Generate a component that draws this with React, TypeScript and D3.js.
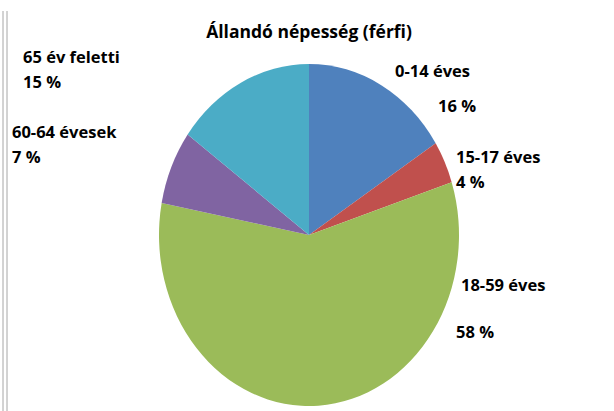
import React, {useRef, useEffect} from 'react';
import * as d3 from 'd3';

const width = 614;
const height = 411;

const title = 'Állandó népesség (férfi)';
const categories = ['0-14 éves', '15-17 éves', '18-59 éves', '60-64 évesek', '65 év feletti'];
const values = [16, 4, 58, 7, 15];
const colors = ['#4F81BD', '#C0504D', '#9BBB59', '#8064A2', '#4BACC6'];

// label placement (name line, percent line), hand-placed like in the source sheet
const labelLayout = [
  {x: 395, y: 77, px: 438, py: 112},
  {x: 456, y: 163, px: 456, py: 188},
  {x: 461, y: 291, px: 456, py: 338},
  {x: 12, y: 138, px: 12, py: 163},
  {x: 23, y: 63, px: 23, py: 88},
];

const font = '"Open Sans", "Noto Sans", sans-serif';
const fontSize = 16.5;
const titleSize = 17.5;

const setupChart = (container: SVGSVGElement) => {
  const svg = d3.select(container);
  svg.selectAll('*').remove();

  svg.append('rect').attr('width', width).attr('height', height).attr('fill', 'white');

  // double frame line on the left
  [3, 7].forEach(x => {
    svg
      .append('line')
      .attr('x1', x)
      .attr('x2', x)
      .attr('y1', 11)
      .attr('y2', height)
      .attr('stroke', '#a6a6a6')
      .attr('stroke-width', 1);
  });

  const cx = 309;
  const cy = 235;
  const ry = 171;
  const rx = 150;

  const pie = d3
    .pie<number>()
    .sort(null)
    .value(d => d);
  const arc = d3.arc<d3.PieArcDatum<number>>().innerRadius(0).outerRadius(ry);

  svg
    .append('g')
    .attr('transform', `translate(${cx},${cy}) scale(${rx / ry},1)`)
    .selectAll('path')
    .data(pie(values))
    .enter()
    .append('path')
    .attr('d', arc)
    .attr('fill', (d, i) => colors[i]);

  svg
    .append('text')
    .attr('x', cx)
    .attr('y', 38)
    .attr('text-anchor', 'middle')
    .attr('font-family', font)
    .attr('font-weight', 'bold')
    .attr('font-size', titleSize)
    .attr('fill', '#000')
    .text(title);

  const labels = svg
    .append('g')
    .attr('font-family', font)
    .attr('font-weight', 'bold')
    .attr('font-size', fontSize)
    .attr('fill', '#000')
    .selectAll('g')
    .data(categories)
    .enter()
    .append('g');

  labels
    .append('text')
    .attr('x', (d, i) => labelLayout[i].x)
    .attr('y', (d, i) => labelLayout[i].y)
    .text(d => d);

  labels
    .append('text')
    .attr('x', (d, i) => labelLayout[i].px)
    .attr('y', (d, i) => labelLayout[i].py)
    .text((d, i) => `${values[i]} %`);
};

export default function App() {
  const svgRef = useRef<SVGSVGElement>(null);
  useEffect(() => {
    if (svgRef.current) {
      setupChart(svgRef.current);
    }
  }, []);
  return (
    <svg
      ref={svgRef}
      width={width}
      height={height}
      style={{position: 'absolute', left: 0, top: 0}}
    />
  );
}
